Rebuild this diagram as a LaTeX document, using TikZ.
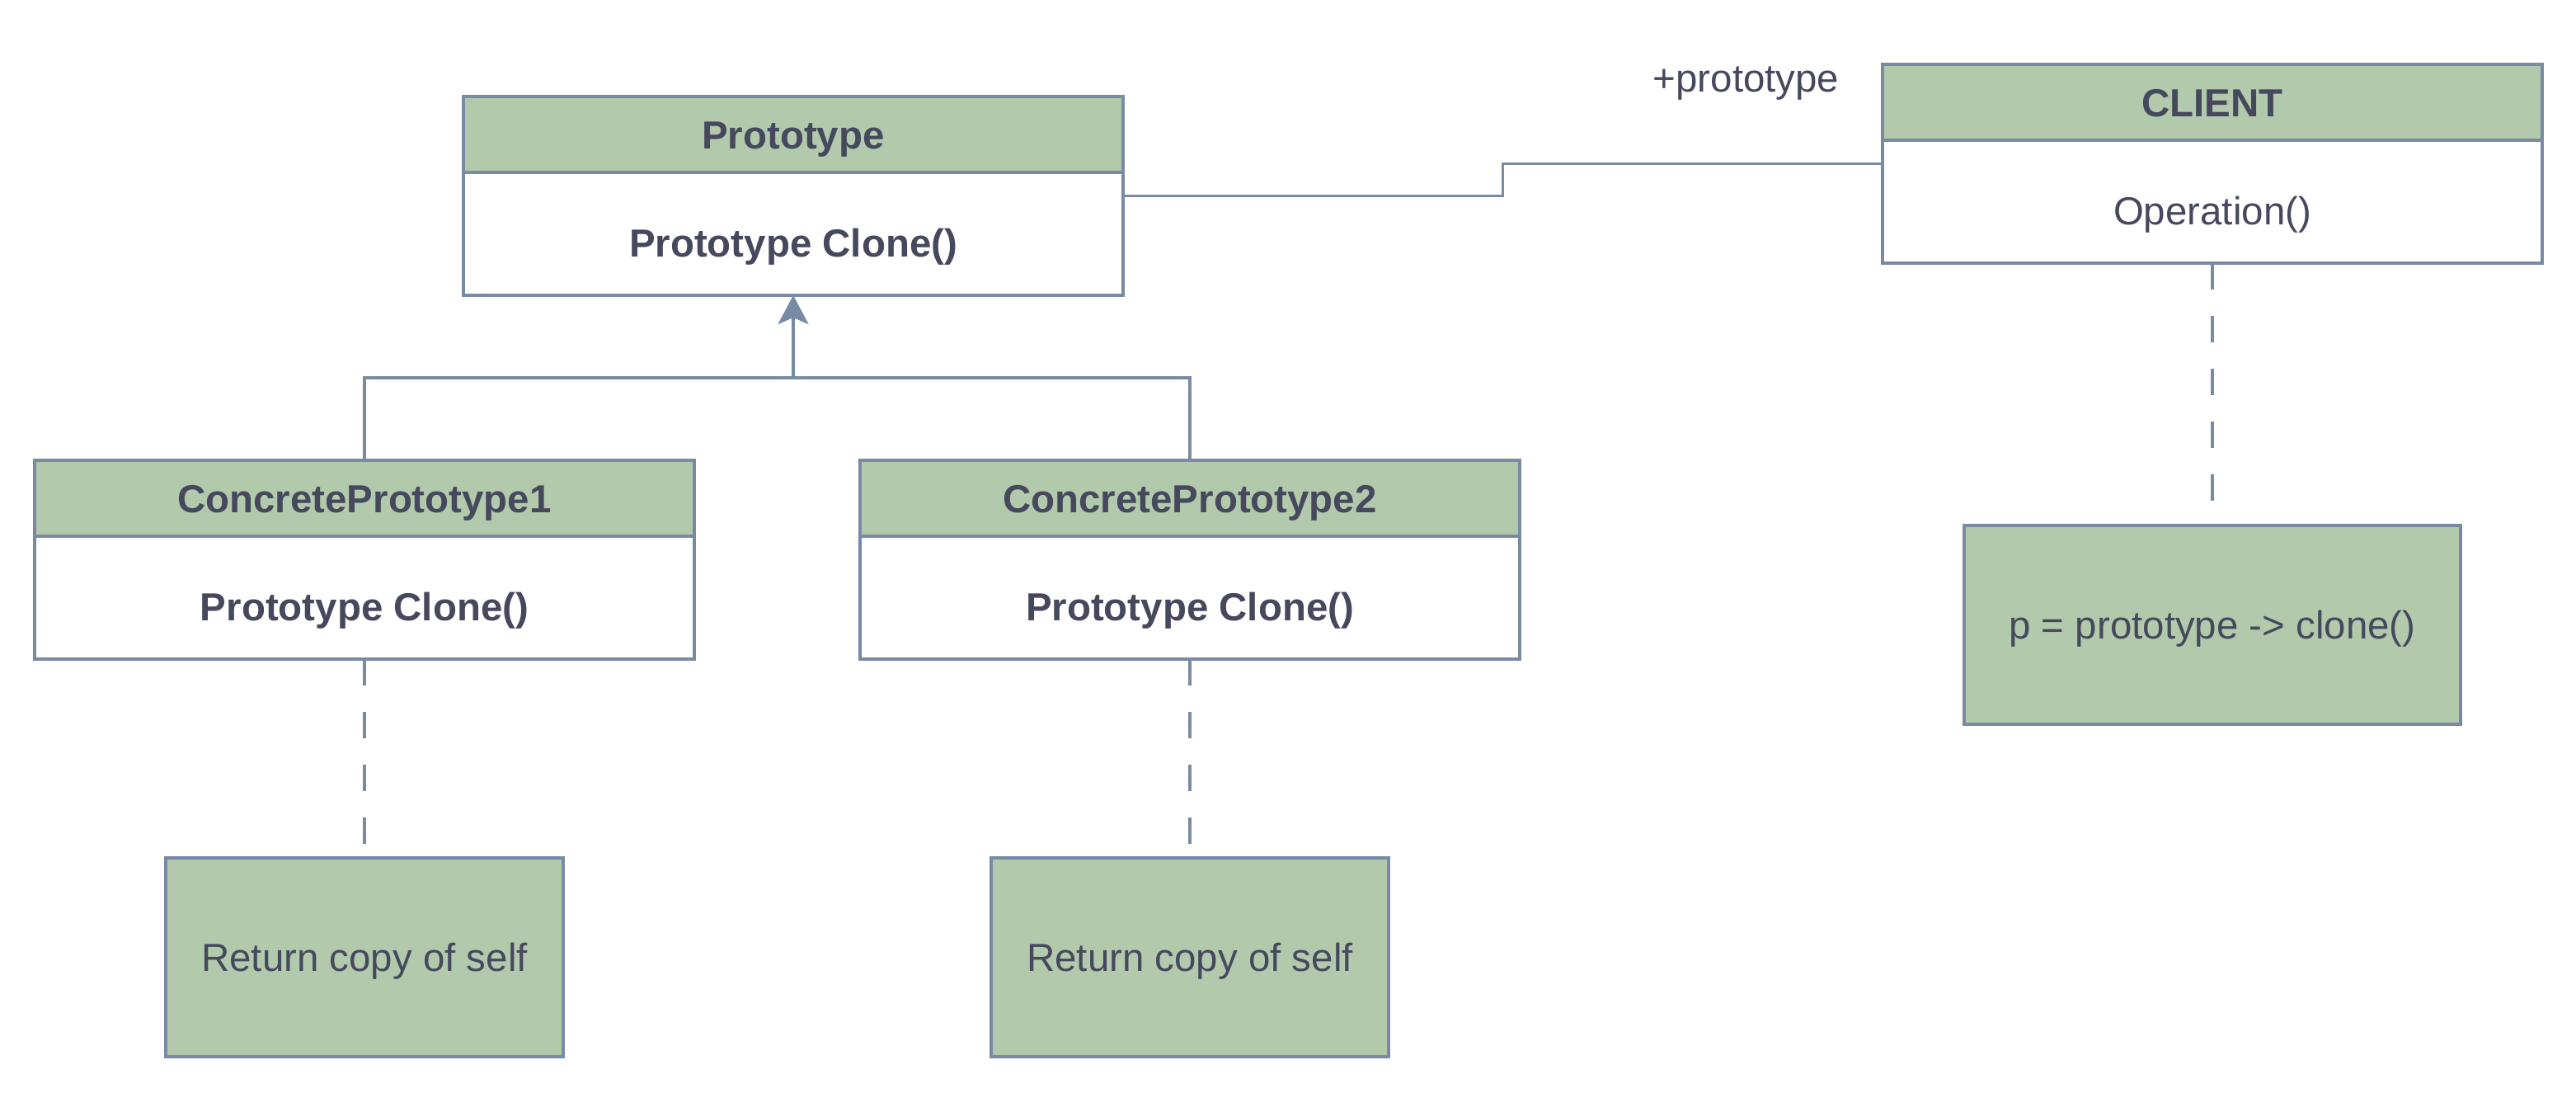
\documentclass[tikz,border=0pt]{standalone}
\usepackage{fontspec}
\setmainfont{Liberation Sans}
\usepackage{tikz}
\usetikzlibrary{arrows.meta}
\usetikzlibrary{positioning}
\usetikzlibrary{fit}
\usetikzlibrary{calc}

\definecolor{boxgreen}{HTML}{B2C9AB}
\definecolor{boxline}{HTML}{788AA4}
\definecolor{boxtext}{HTML}{46495E}

\tikzset{
	classhead/.style={draw=boxline, fill=boxgreen, line width=0.034cm, outer sep=0pt, minimum width=8cm, minimum height=0.92cm, text=boxtext, font=\fontsize{13.5}{16}\selectfont\bfseries, text height=9.7pt, text depth=0pt},
	classbody/.style={draw=boxline, fill=white, line width=0.034cm, outer sep=0pt, minimum width=8cm, minimum height=1.49cm, text=boxtext, font=\fontsize{13.5}{16}\selectfont, text height=15.9pt, text depth=0pt},
	notebox/.style={draw=boxline, fill=boxgreen, line width=0.034cm, outer sep=0pt, minimum height=2.41cm, text=boxtext, font=\fontsize{13.5}{16}\selectfont, text height=9.7pt, text depth=0pt},
	link/.style={draw=boxline, line width=0.034cm},
	notelink/.style={link, dash pattern=on 0.32cm off 0.32cm}
}

\begin{document}
\begin{tikzpicture}
	\useasboundingbox (0,0) rectangle (31.24,-13.24);

	%Class Prototype
	\node [classhead] (protoHead) at (9.62,-1.63) {Prototype};
	\node [classbody, below=0pt of protoHead] (protoBody) {\bfseries Prototype Clone()};
	\node [fit=(protoHead)(protoBody), inner sep=0pt, outer sep=0pt] (proto) {};

	%Class CLIENT
	\node [classhead] (clientHead) at (26.83,-1.24) {CLIENT};
	\node [classbody, below=0pt of clientHead] (clientBody) {Operation()};
	\node [fit=(clientHead)(clientBody), inner sep=0pt, outer sep=0pt] (client) {};

	%Concrete prototypes
	\node [classhead] (cpOneHead) at (4.42,-6.04) {ConcretePrototype1};
	\node [classbody, below=0pt of cpOneHead] (cpOneBody) {\bfseries Prototype Clone()};
	\node [fit=(cpOneHead)(cpOneBody), inner sep=0pt, outer sep=0pt] (cpOne) {};
	\node [classhead] (cpTwoHead) at (14.43,-6.04) {ConcretePrototype2};
	\node [classbody, below=0pt of cpTwoHead] (cpTwoBody) {\bfseries Prototype Clone()};
	\node [fit=(cpTwoHead)(cpTwoBody), inner sep=0pt, outer sep=0pt] (cpTwo) {};

	%Notes
	\node [notebox, minimum width=4.82cm, below=2.41cm of cpOne] (retOne) {Return copy of self};
	\node [notebox, minimum width=4.82cm, below=2.41cm of cpTwo] (retTwo) {Return copy of self};
	\node [notebox, minimum width=6.02cm, below=3.18cm of client] (cloneNote) {p = prototype -> clone()};

	%Inheritance
	\coordinate (branch) at (9.62,-4.58);
	\draw [link] (cpOne.north) |- (branch) -| (cpTwo.north);
	\draw [link, -{Stealth[length=0.35cm, width=0.37cm, inset=0.08cm]}] (branch) to (proto.south);

	%Association to client
	\draw [link] (proto.east) -| ($(proto.east)!0.5!(client.west)$) |- (client.west);
	\node [above left=0.86cm and 0.52cm of client.west, inner sep=0pt, text=boxtext, font=\fontsize{13.5}{16}\selectfont, text depth=0pt] (protoRole) {+prototype};

	%Note links
	\draw [notelink] (cpOne.south) to (retOne.north);
	\draw [notelink] (cpTwo.south) to (retTwo.north);
	\draw [notelink] (client.south) to (cloneNote.north);
\end{tikzpicture}
\end{document}
